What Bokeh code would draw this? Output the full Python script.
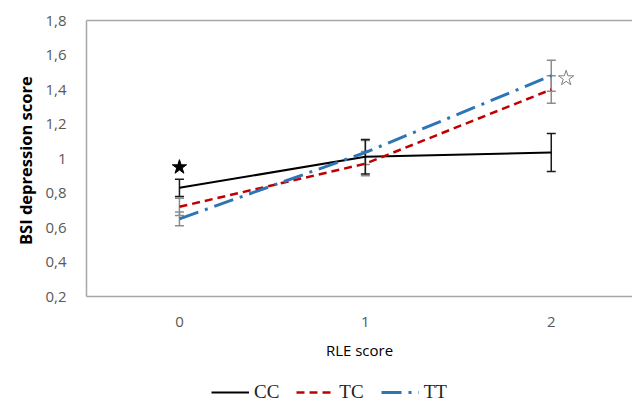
from bokeh.plotting import figure
from bokeh.layouts import column
from bokeh.models import (ColumnDataSource, Whisker, TeeHead, Legend, LegendItem,
                          LinearAxis, FixedTicker, CustomJSTickFormatter)
from bokeh.embed import file_html
from bokeh.resources import INLINE

# ---- data ----
rle = [0, 1, 2]
cc = [0.83, 1.01, 1.035]
cc_err = [0.05, 0.10, 0.11]
tc = [0.72, 0.97, 1.40]
tc_err = [0.05, 0.07, 0.08]
tt = [0.65, 1.035, 1.48]
tt_err = [0.04, 0.07, 0.09]
y_ticks = [0.2, 0.4, 0.6, 0.8, 1.0, 1.2, 1.4, 1.6, 1.8]
x_ticks = [0, 1, 2]
star_filled = ([0], [0.95])
star_open = ([2.08], [1.465])
series_names = ["CC", "TC", "TT"]
series_vals = {"CC": cc, "TC": tc, "TT": tt}

FONT = "Open Sans"
GRAY = "#595959"
STY = {
    "CC": dict(line_color="black", line_width=2),
    "TC": dict(line_color="#C00000", line_width=2.5, line_dash="8 5"),
    "TT": dict(line_color="#2E75B6", line_width=3, line_dash="20 7 3 7"),
}

p = figure(width=632, height=368, output_backend="svg", toolbar_location=None,
           x_range=(-0.5, 2.437), y_range=(0.2, 1.8),
           min_border_left=86, min_border_right=0, min_border_top=20, min_border_bottom=72)
p.outline_line_color = None
p.grid.visible = False
p.background_fill_color = "white"

# axes styling
p.yaxis.ticker = FixedTicker(ticks=y_ticks)
p.yaxis.formatter = CustomJSTickFormatter(code="return (Math.round(tick*10)/10).toString().replace('.', ',');")
p.xaxis.ticker = FixedTicker(ticks=x_ticks)
for ax in (p.xaxis[0], p.yaxis[0]):
    ax.axis_line_color = "#a6a6a6"
    ax.axis_line_width = 1.5
    ax.major_tick_line_color = None
    ax.minor_tick_line_color = None
    ax.major_label_text_font = FONT
    ax.major_label_text_font_size = "15px"
    ax.major_label_text_color = GRAY
p.yaxis.major_label_standoff = 14
p.xaxis.major_label_standoff = 14
p.yaxis.axis_label = "BSI  depression score"
p.yaxis.axis_label_text_font = FONT
p.yaxis.axis_label_text_font_style = "bold"
p.yaxis.axis_label_text_font_size = "16.5px"
p.yaxis.axis_label_text_color = "black"
p.yaxis.axis_label_standoff = 5
p.xaxis.axis_label = "RLE score"
p.xaxis.axis_label_text_font = FONT
p.xaxis.axis_label_text_font_style = "normal"
p.xaxis.axis_label_text_font_size = "15px"
p.xaxis.axis_label_text_color = "black"
p.xaxis.axis_label_standoff = 10

top_ax = LinearAxis(axis_line_color="#a6a6a6", axis_line_width=1.5,
                    major_tick_line_color=None, minor_tick_line_color=None,
                    major_label_text_font_size="0px", ticker=FixedTicker(ticks=[]))
p.add_layout(top_ax, "above")

# error bars
def whisk(y, e, color):
    src = ColumnDataSource(dict(x=rle, lo=[a - b for a, b in zip(y, e)],
                                hi=[a + b for a, b in zip(y, e)]))
    w = Whisker(source=src, base="x", lower="lo", upper="hi", line_color=color, line_width=1.5,
                upper_head=TeeHead(size=9, line_color=color, line_width=1.5),
                lower_head=TeeHead(size=9, line_color=color, line_width=1.5))
    p.add_layout(w)

whisk(tc, tc_err, "#8c8c8c")
whisk(tt, tt_err, "#8c8c8c")
whisk(cc, cc_err, "#1a1a1a")

for name in series_names:
    p.line(rle, series_vals[name], **STY[name])

p.scatter(star_filled[0], star_filled[1], marker="star", size=15, fill_color="black", line_color="black")
p.scatter(star_open[0], star_open[1], marker="star", size=16, fill_color="white", line_color="#7f7f7f", line_width=1)

# legend strip below the chart (its lines lie outside its visible range)
lg = figure(width=632, height=38, output_backend="svg", toolbar_location=None,
            x_axis_type=None, y_axis_type=None, x_range=(100, 101), y_range=(100, 101),
            min_border=0)
lg.outline_line_color = None
lg.grid.visible = False
items = []
for name in series_names:
    r = lg.line(rle, series_vals[name], **STY[name])
    items.append(LegendItem(label=name, renderers=[r]))
legend = Legend(items=items, orientation="horizontal", location=(125, 3),
                label_text_font="Liberation Serif", label_text_font_size="19px",
                label_text_color="#222222", glyph_width=38, spacing=17,
                label_standoff=5, border_line_color=None, background_fill_alpha=0,
                padding=2, margin=0)
lg.add_layout(legend, "center")

open("out.html", "w").write(file_html(column(p, lg, spacing=0), INLINE))
